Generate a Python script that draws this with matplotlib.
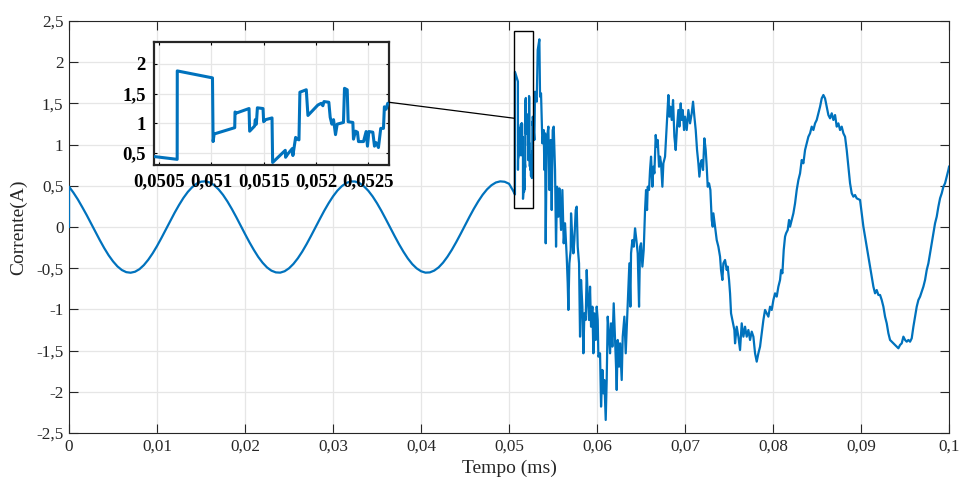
import numpy as np
import matplotlib
matplotlib.use("Agg")
import matplotlib.pyplot as plt
from matplotlib.patches import Rectangle, ConnectionPatch

plt.rcParams['font.family'] = ['Liberation Serif', 'DejaVu Serif']

# ---------------- data ----------------
# steady state part (read every 0.0005)
t_sine_step = 0.0005
i_sine = [0.490, 0.417, 0.335, 0.242, 0.146, 0.044, -0.059, -0.160, -0.256, -0.343,
          -0.417, -0.478, -0.522, -0.548, -0.555, -0.543, -0.512, -0.463, -0.398, -0.320,
          -0.231, -0.133, -0.031, 0.072, 0.173, 0.267, 0.353, 0.426, 0.484, 0.526,
          0.550, 0.554, 0.540, 0.507, 0.456, 0.390, 0.310, 0.219, 0.121, 0.018,
          -0.085, -0.185, -0.278, -0.363, -0.434, -0.491, -0.530, -0.551, -0.554, -0.537,
          -0.501, -0.448, -0.380, -0.299, -0.207, -0.108, -0.005, 0.097, 0.197, 0.289,
          0.372, 0.442, 0.496, 0.534, 0.553, 0.552, 0.533, 0.495, 0.441, 0.371,
          0.288, 0.195, 0.095, -0.008, -0.110, -0.209, -0.300, -0.382, -0.450, -0.502,
          -0.537, -0.554, -0.551, -0.529, -0.490, -0.433, -0.361, -0.277, -0.183, -0.083,
          0.020, 0.123, 0.221, 0.311, 0.391, 0.457, 0.507, 0.540, 0.554, 0.549,
          0.525]

# disturbed part
t_dist = [0.050452, 0.050672, 0.050673, 0.051010, 0.051016, 0.051026, 0.051223, 0.051226,
          0.051239, 0.051360, 0.051366, 0.051414, 0.051420, 0.051430, 0.051440, 0.051494,
          0.051500, 0.051519, 0.051580, 0.051586, 0.051707, 0.051710, 0.051733, 0.051774,
          0.051780, 0.051790, 0.051806, 0.051822, 0.051838, 0.051847, 0.051908, 0.051924,
          0.052019, 0.052051, 0.052067, 0.052077, 0.052124, 0.052137, 0.052153, 0.052169,
          0.052188, 0.052204, 0.052264, 0.052274, 0.052300, 0.052309, 0.052354, 0.052360,
          0.052379, 0.052398, 0.052408, 0.052456, 0.052481, 0.052494, 0.052507, 0.052545,
          0.052561, 0.052577, 0.052599, 0.052621, 0.052647, 0.052656, 0.052672, 0.052688,
          0.052710,
          0.052879, 0.052955, 0.053144, 0.053258, 0.053447, 0.053523, 0.053636, 0.053788,
          0.053939, 0.054015, 0.054091, 0.054167, 0.054280, 0.054470, 0.054583, 0.054735,
          0.054848, 0.054962, 0.055076, 0.055227, 0.055341, 0.055455, 0.055606, 0.055720,
          0.055909, 0.056061, 0.056212, 0.056364, 0.056553, 0.056667, 0.056742, 0.056856,
          0.057008,
          0.057045, 0.057121, 0.057311, 0.057424, 0.057576, 0.057689, 0.057803, 0.057955,
          0.058068, 0.058182, 0.058333, 0.058447, 0.058561, 0.058712, 0.058826, 0.058939,
          0.059091, 0.059205, 0.059318, 0.059470, 0.059583, 0.059697, 0.059848, 0.059962,
          0.060076, 0.060152, 0.060341, 0.060455, 0.060606, 0.060720, 0.060833, 0.060985,
          0.061098, 0.061212, 0.061364, 0.061477, 0.061591, 0.061742, 0.061894, 0.062045,
          0.062159, 0.062235, 0.062348, 0.062500, 0.062614, 0.062803, 0.062917, 0.063106,
          0.063258, 0.063409, 0.063561, 0.063674, 0.063788, 0.063864, 0.064015, 0.064167,
          0.064318, 0.064470, 0.064621,
          0.064773, 0.064886, 0.065000, 0.065152, 0.065303, 0.065455, 0.065568, 0.065682,
          0.065758, 0.065909, 0.066023, 0.066136, 0.066288, 0.066402, 0.066515, 0.066667,
          0.066780, 0.066894, 0.067045, 0.067159, 0.067273, 0.067424, 0.067538, 0.067727,
          0.067917, 0.068106, 0.068220, 0.068333, 0.068485, 0.068636, 0.068788, 0.068939,
          0.069091, 0.069242, 0.069356, 0.069508, 0.069621, 0.069735, 0.069886, 0.070000,
          0.070189, 0.070379, 0.070568, 0.070758, 0.070909, 0.071061, 0.071212, 0.071364,
          0.071515, 0.071629, 0.071780, 0.071894, 0.072045, 0.072197, 0.072348, 0.072462,
          0.072576, 0.072727, 0.072879, 0.073030, 0.073144,
          0.073220, 0.073409, 0.073598, 0.073788, 0.073977, 0.074091, 0.074242, 0.074356,
          0.074545, 0.074735, 0.074848, 0.075000, 0.075114, 0.075227, 0.075379, 0.075606,
          0.075682, 0.075871, 0.076061, 0.076250, 0.076439, 0.076629, 0.076818, 0.077008,
          0.077197, 0.077386, 0.077576, 0.077765, 0.077955, 0.078144, 0.078333, 0.078523,
          0.078712, 0.078902, 0.079091, 0.079280, 0.079470, 0.079659, 0.079848, 0.080038,
          0.080227, 0.080417, 0.080606, 0.080795, 0.080909, 0.081061, 0.081212, 0.081364,
          0.081477, 0.081667, 0.081818, 0.081932, 0.082121, 0.082311, 0.082500, 0.082689,
          0.082879, 0.083068, 0.083258, 0.083447, 0.083636, 0.083826, 0.084015, 0.084205,
          0.084394, 0.084583, 0.084773, 0.084962, 0.085152, 0.085341, 0.085530, 0.085720,
          0.085909, 0.086098, 0.086288, 0.086477, 0.086667, 0.086856, 0.087045, 0.087235,
          0.087424, 0.087614, 0.087803, 0.087992, 0.088182, 0.088371, 0.088561, 0.088750,
          0.088939, 0.089129, 0.089318, 0.089508,
          0.089886, 0.090076, 0.090265, 0.090455, 0.090644, 0.090833, 0.091023, 0.091212,
          0.091402, 0.091591, 0.091780, 0.091970, 0.092159, 0.092348, 0.092538, 0.092727,
          0.092917, 0.093106, 0.093295, 0.093485, 0.093674, 0.093864, 0.094053, 0.094242,
          0.094432, 0.094621, 0.094811, 0.095000, 0.095189, 0.095379, 0.095568, 0.095758,
          0.095947, 0.096136, 0.096326, 0.096515, 0.096705, 0.096894, 0.097083, 0.097273,
          0.097462, 0.097652, 0.097841, 0.098030, 0.098220, 0.098409, 0.098598, 0.098788,
          0.098977, 0.099167, 0.099356, 0.099545, 0.099735, 0.099924, 0.100000]

i_dist = [0.442, 0.395, 1.883, 1.766, 0.694, 0.822, 0.928, 1.192,
          1.174, 1.250, 0.869, 0.957, 1.063, 0.987, 1.262, 1.250,
          1.028, 1.063, 1.092, 0.342, 0.547, 0.430, 0.489, 0.576,
          0.459, 0.576, 0.764, 0.735, 0.723, 1.525, 1.566, 1.133,
          1.309, 1.338, 1.297, 1.367, 1.356, 1.104, 0.987, 1.063,
          0.811, 0.987, 1.016, 1.590, 1.566, 1.028, 1.016, 0.735,
          0.869, 0.852, 0.694, 0.694, 0.863, 0.617, 0.863, 0.852,
          0.617, 0.676, 0.594, 0.916, 0.916, 1.279, 1.238, 1.338,
          1.338,
          1.056, 1.642, 1.521, 2.148, 2.278, 1.582, 1.622, 1.015,
          1.177, 0.692, 1.137, -0.198, 1.056, 1.218, 0.449, 1.056,
          0.206, 1.177, 1.218, 0.692, -0.239, 0.489, 0.125, 0.469,
          -0.036, 0.449, -0.198, 0.045, -0.360, -0.684, -1.007, -0.441,
          -0.279,
          0.166, 0.004, -0.320, -0.158, 0.206, 0.247, -0.239, -0.441,
          -1.331, -0.643, -0.967, -1.533, -1.048, -1.129, -0.522, -0.845,
          -1.129, -0.724, -1.210, -0.967, -1.533, -1.048, -1.371, -0.967,
          -1.129, -1.574, -1.533, -2.180, -1.735, -2.019, -1.857, -2.342,
          -1.857, -1.088, -1.331, -1.533, -1.169, -1.452, -0.926, -1.371,
          -1.695, -1.978, -1.371, -1.695, -1.412, -1.857, -1.331, -1.088,
          -1.533, -1.129, -0.724, -0.441, -0.967, -0.320, -0.158, -0.239,
          -0.016, -0.158, -0.320,
          -0.967, -0.239, -0.198, -0.481, -0.279, 0.206, 0.449, 0.206,
          0.489, 0.449, 0.692, 0.854, 0.489, 0.732, 0.651, 1.117,
          0.975, 1.056, 0.732, 0.854, 0.773, 0.489, 0.773, 0.854,
          1.218, 1.602, 1.339, 1.460, 1.299, 1.541, 1.096, 0.934,
          1.218, 1.420, 1.218, 1.501, 1.299, 1.420, 1.177, 1.339,
          1.177, 1.420, 1.258, 1.380, 1.521, 1.339, 1.177, 0.934,
          0.773, 0.611, 0.773, 0.813, 0.692, 1.076, 0.934, 0.732,
          0.489, 0.530, 0.449, 0.085, 0.004,
          0.166, 0.004, -0.158, -0.239, -0.360, -0.522, -0.643, -0.441,
          -0.400, -0.522, -0.481, -0.643, -0.805, -1.048, -1.129, -1.250,
          -1.412, -1.210, -1.331, -1.493, -1.169, -1.331, -1.210, -1.331,
          -1.250, -1.371, -1.270, -1.331, -1.533, -1.634, -1.533, -1.452,
          -1.290, -1.129, -1.007, -1.048, -1.088, -0.967, -1.007, -0.886,
          -0.805, -0.845, -0.724, -0.643, -0.522, -0.562, -0.279, -0.117,
          -0.077, -0.036, 0.085, 0.004, 0.085, 0.166, 0.287, 0.449,
          0.570, 0.651, 0.813, 0.773, 0.934, 1.015, 1.096, 1.137,
          1.218, 1.177, 1.258, 1.299, 1.380, 1.460, 1.561, 1.602,
          1.561, 1.460, 1.359, 1.319, 1.380, 1.299, 1.359, 1.218,
          1.258, 1.177, 1.218, 1.137, 1.096, 0.934, 0.732, 0.530,
          0.409, 0.368, 0.388, 0.348,
          0.328, 0.166, 0.004, -0.117, -0.239, -0.360, -0.481, -0.603,
          -0.724, -0.805, -0.765, -0.825, -0.825, -0.886, -0.967, -1.088,
          -1.169, -1.290, -1.371, -1.392, -1.412, -1.432, -1.452, -1.472,
          -1.432, -1.412, -1.331, -1.371, -1.392, -1.371, -1.392, -1.351,
          -1.210, -1.088, -0.967, -0.886, -0.845, -0.785, -0.724, -0.643,
          -0.522, -0.441, -0.320, -0.198, -0.077, 0.045, 0.125, 0.247,
          0.348, 0.409, 0.489, 0.530, 0.611, 0.692, 0.732]

x_ticks = [0, 0.01, 0.02, 0.03, 0.04, 0.05, 0.06, 0.07, 0.08, 0.09, 0.1]
x_tick_labels = ["0", "0,01", "0,02", "0,03", "0,04", "0,05", "0,06", "0,07", "0,08", "0,09", "0,1"]
y_ticks = [-2.5, -2, -1.5, -1, -0.5, 0, 0.5, 1, 1.5, 2, 2.5]
y_tick_labels = ["-2,5", "-2", "-1,5", "-1", "-0,5", "0", "0,5", "1", "1,5", "2", "2,5"]
inset_x_ticks = [0.0505, 0.051, 0.0515, 0.052, 0.0525]
inset_x_labels = ["0,0505", "0,051", "0,0515", "0,052", "0,0525"]
inset_y_ticks = [0.5, 1, 1.5, 2]
inset_y_labels = ["0,5", "1", "1,5", "2"]

# ---------------- build series ----------------
t_sine = np.round(np.arange(len(i_sine)) * t_sine_step, 6)
t_all = np.concatenate([[0.0], t_sine, t_dist])
i_all = np.concatenate([[0.0], i_sine, i_dist])

blue = '#0072BD'
dark = '#262626'
grid_c = '#e6e6e6'

fig = plt.figure(figsize=(9.6, 4.82), dpi=100)
ax = fig.add_axes([0.0719, 0.1017, 0.9167, 0.8547])
ax.plot(t_all, i_all, color=blue, lw=1.6, zorder=3)
ax.set_xlim(0, 0.1)
ax.set_ylim(-2.5, 2.5)
ax.set_xticks(x_ticks)
ax.set_xticklabels(x_tick_labels)
ax.set_yticks(y_ticks)
ax.set_yticklabels(y_tick_labels)
ax.grid(True, color=grid_c, lw=0.9, zorder=0)
ax.set_axisbelow(True)
ax.tick_params(direction='in', length=6.3, width=0.8, colors=dark, labelsize=12.3,
               top=True, right=True, pad=4)
for s in ax.spines.values():
    s.set_color(dark)
    s.set_linewidth(0.8)
ax.set_xlabel('Tempo (ms)', fontsize=14, color=dark)
ax.set_ylabel('Corrente(A)', fontsize=14, color=dark)
ax.xaxis.set_label_coords(0.5, -0.066)
ax.yaxis.set_label_coords(-0.047, 0.5)

# zoom box in the main axes
box_x0, box_x1 = 0.05057, 0.05276
box_y0, box_y1 = 0.23, 2.38
ax.add_patch(Rectangle((box_x0, box_y0), box_x1 - box_x0, box_y1 - box_y0,
                       fill=False, ec='black', lw=1.0, zorder=4))

# inset
axi = fig.add_axes([0.1604, 0.6577, 0.2448, 0.2552])
axi.plot(t_all, i_all, color=blue, lw=2.2, zorder=3)
axi.set_xlim(0.05045, 0.0527)
axi.set_ylim(0.30, 2.37)
axi.set_xticks(inset_x_ticks)
axi.set_xticklabels(inset_x_labels)
axi.set_yticks(inset_y_ticks)
axi.set_yticklabels(inset_y_labels)
axi.grid(True, color=grid_c, lw=0.9, zorder=0)
axi.set_axisbelow(True)
axi.tick_params(direction='in', length=2.5, width=0.8, colors='black', labelsize=13.5,
                top=True, right=True, pad=6)
for lab in axi.get_xticklabels() + axi.get_yticklabels():
    lab.set_fontweight('bold')
for s in axi.spines.values():
    s.set_color(dark)
    s.set_linewidth(1.6)

con = ConnectionPatch(xyA=(1.0, 0.51), coordsA=axi.transAxes,
                      xyB=(box_x0, 1.32), coordsB=ax.transData,
                      color='black', lw=0.9)
fig.add_artist(con)

fig.savefig('out.png', dpi=100)
